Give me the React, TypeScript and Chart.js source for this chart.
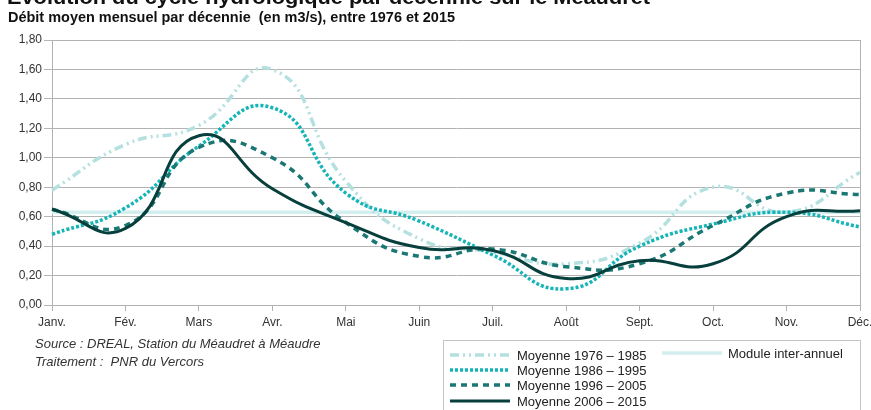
import React, { useEffect, useRef } from "react";
import { Chart, registerables } from "chart.js";

Chart.register(...registerables);

const months = ["Janv.", "Fév.", "Mars", "Avr.", "Mai", "Juin", "Juil.", "Août", "Sept.", "Oct.", "Nov.", "Déc."];
const moy1976 = [0.78, 1.09, 1.22, 1.6, 0.84, 0.45, 0.36, 0.28, 0.42, 0.8, 0.63, 0.9];
const moy1986 = [0.48, 0.66, 1.08, 1.34, 0.76, 0.57, 0.34, 0.11, 0.4, 0.55, 0.63, 0.53];
const moy1996 = [0.65, 0.54, 1.07, 1.0, 0.56, 0.33, 0.38, 0.26, 0.28, 0.54, 0.76, 0.75];
const moy2006 = [0.65, 0.52, 1.15, 0.79, 0.56, 0.39, 0.37, 0.18, 0.3, 0.28, 0.6, 0.64];
const moduleInterAnnuel = [0.63, 0.63, 0.63, 0.63, 0.63, 0.63, 0.63, 0.63, 0.63, 0.63, 0.63, 0.63];
const seriesNames = ["Moyenne 1976 – 1985", "Moyenne 1986 – 1995", "Moyenne 1996 – 2005", "Moyenne 2006 – 2015", "Module inter-annuel"];

const title = "Évolution du cycle hydrologique par décennie sur le Méaudret";
const subtitle = "Débit moyen mensuel par décennie  (en m3/s), entre 1976 et 2015";
const source1 = "Source : DREAL, Station du Méaudret à Méaudre";
const source2 = "Traitement :  PNR du Vercors";

const FONT = "'Liberation Sans', Arial, sans-serif";
const GRID = "#b3b3b3";

function fitText(ctx: CanvasRenderingContext2D, text: string, x: number, y: number, font: string, targetW: number) {
  ctx.font = font;
  const w = ctx.measureText(text).width;
  const sx = w > 0 ? targetW / w : 1;
  ctx.save();
  ctx.translate(x, y);
  ctx.scale(sx, 1);
  ctx.fillText(text, 0, 0);
  ctx.restore();
}

const decor = {
  id: "decor",
  afterDraw(chart: any) {
    const ctx: CanvasRenderingContext2D = chart.ctx;
    const area = chart.chartArea;
    ctx.save();
    ctx.strokeStyle = GRID;
    ctx.lineWidth = 1;
    ctx.beginPath();
    ctx.moveTo(Math.round(area.right) + 0.5, area.top);
    ctx.lineTo(Math.round(area.right) + 0.5, area.bottom);
    ctx.stroke();

    ctx.fillStyle = "#111";
    ctx.textBaseline = "alphabetic";
    ctx.textAlign = "left";
    fitText(ctx, title, 7, 4, `bold 20px 'Liberation Sans Narrow', ${FONT}`, 643);
    fitText(ctx, subtitle, 8, 22, `bold 15px 'Liberation Sans Narrow', ${FONT}`, 447);

    ctx.fillStyle = "#333";
    ctx.font = `italic 13px ${FONT}`;
    ctx.fillText(source1, 35, 348);
    ctx.fillText(source2, 35, 366);

    ctx.strokeStyle = "#c4c4c4";
    ctx.lineWidth = 1;
    ctx.strokeRect(443.5, 340.5, 417, 100);

    const ds = chart.data.datasets;
    const rows = [355, 370, 385, 401];
    ctx.font = `13px ${FONT}`;
    ctx.fillStyle = "#222";
    for (let i = 0; i < 4; i++) {
      const d = ds[i];
      ctx.save();
      ctx.strokeStyle = d.borderColor;
      ctx.lineWidth = d.borderWidth;
      ctx.setLineDash(d.borderDash || []);
      ctx.beginPath();
      ctx.moveTo(450, rows[i]);
      ctx.lineTo(510, rows[i]);
      ctx.stroke();
      ctx.restore();
      ctx.fillText(d.label, 517, rows[i] + 5);
    }
    const m = ds[4];
    ctx.save();
    ctx.strokeStyle = m.borderColor;
    ctx.lineWidth = m.borderWidth;
    ctx.beginPath();
    ctx.moveTo(662, 353);
    ctx.lineTo(722, 353);
    ctx.stroke();
    ctx.restore();
    ctx.fillText(m.label, 728, 358);
    ctx.restore();
  },
};

export default function App() {
  const ref = useRef<HTMLCanvasElement | null>(null);
  useEffect(() => {
    if (!ref.current) return;
    const chart = new Chart(ref.current, {
      type: "line",
      data: {
        labels: months,
        datasets: [
          {
            label: seriesNames[0],
            data: moy1976,
            borderColor: "#b4e0e0",
            borderWidth: 3.5,
            borderDash: [9, 4, 2, 4, 2, 4],
            tension: 0.5,
            pointRadius: 0,
            fill: false,
            order: 3,
          },
          {
            label: seriesNames[1],
            data: moy1986,
            borderColor: "#14b4b7",
            borderWidth: 3.5,
            borderDash: [3, 2],
            tension: 0.5,
            pointRadius: 0,
            fill: false,
            order: 2,
          },
          {
            label: seriesNames[2],
            data: moy1996,
            borderColor: "#1a7773",
            borderWidth: 3.5,
            borderDash: [6, 5],
            tension: 0.5,
            pointRadius: 0,
            fill: false,
            order: 1,
          },
          {
            label: seriesNames[3],
            data: moy2006,
            borderColor: "#073f3c",
            borderWidth: 3,
            tension: 0.5,
            pointRadius: 0,
            fill: false,
            order: 0,
          },
          {
            label: seriesNames[4],
            data: moduleInterAnnuel,
            borderColor: "#d3eeee",
            borderWidth: 3.5,
            tension: 0,
            pointRadius: 0,
            fill: false,
            order: 10,
          },
        ],
      },
      options: {
        responsive: false,
        animation: false,
        devicePixelRatio: 1,
        layout: { padding: { left: 0, right: 40, top: 40, bottom: 75 } },
        plugins: { legend: { display: false }, tooltip: { enabled: false }, title: { display: false } },
        scales: {
          x: {
            offset: false,
            grid: { drawOnChartArea: false, drawTicks: true, tickLength: 6, color: GRID },
            border: { display: true, color: GRID },
            ticks: {
              autoSkip: false,
              maxRotation: 0,
              padding: 4,
              color: "#333",
              font: { family: FONT, size: 12 },
            },
            afterFit: (s: any) => {
              s.height = 30;
            },
          },
          y: {
            min: 0,
            max: 1.8,
            grid: { color: GRID, tickLength: 8 },
            border: { display: true, color: GRID },
            ticks: {
              stepSize: 0.2,
              padding: 2,
              color: "#333",
              font: { family: FONT, size: 12 },
              callback: (v: any) => Number(v).toFixed(2).replace(".", ","),
            },
            afterFit: (s: any) => {
              s.width = 52;
            },
          },
        },
      },
      plugins: [decor],
    });
    return () => chart.destroy();
  }, []);
  return (
    <div style={{ position: "fixed", left: 0, top: 0, width: 871, height: 410, overflow: "hidden", background: "#fff" }}>
      <canvas ref={ref} width={900} height={410} style={{ display: "block" }} />
    </div>
  );
}
